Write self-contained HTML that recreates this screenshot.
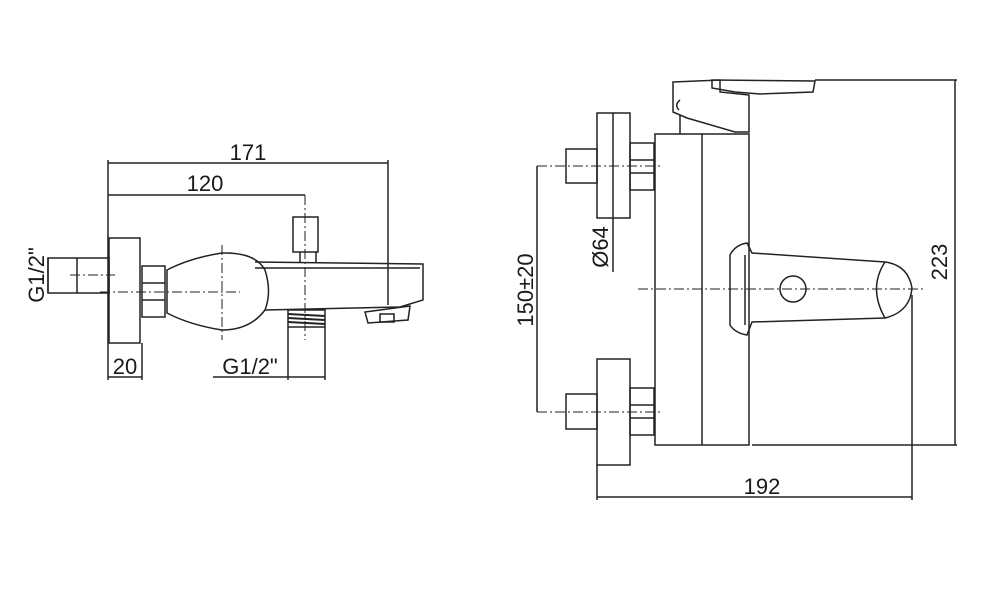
<!DOCTYPE html>
<html><head><style>
html,body{margin:0;padding:0;background:#fff;}
svg{display:block}
text{font-family:"Liberation Sans",sans-serif;font-size:22px;fill:#1a1a1a}
</style></head><body>
<svg width="1000" height="603" viewBox="0 0 1000 603" xmlns="http://www.w3.org/2000/svg">
<g fill="none" stroke="#222" stroke-width="1.5">
<line x1="108" y1="163" x2="388" y2="163"/>
<line x1="108" y1="195" x2="305" y2="195"/>
<line x1="108" y1="160" x2="108" y2="380"/>
<line x1="388" y1="160" x2="388" y2="305"/>
<line x1="142" y1="343" x2="142" y2="380"/>
<line x1="108" y1="377" x2="142" y2="377"/>
<line x1="213" y1="377" x2="325" y2="377"/>
<line x1="288" y1="327" x2="288" y2="380"/>
<line x1="325" y1="327" x2="325" y2="380"/>
<line x1="48" y1="258" x2="48" y2="293"/>
<rect x="109" y="238" width="31" height="105"/>
<rect x="48" y="258" width="61" height="35"/>
<line x1="77" y1="258" x2="77" y2="293"/>
<rect x="142" y="266" width="23" height="51"/>
<line x1="142" y1="283" x2="165" y2="283"/>
<line x1="142" y1="300" x2="165" y2="300"/>
<path d="M167 270 Q190 258 222 253 Q255 252 265 270 Q272 292 265 310 Q250 330 222 330 Q190 325 167 313 Z"/>
<path d="M255 262 L423 264 L423 300 L400 307 L265 310"/>
<line x1="255" y1="268" x2="420" y2="268"/>
<path d="M300 262 L300 252 M316 252 L316 262"/>
<rect x="293" y="217" width="25" height="35"/>
<rect x="288" y="310" width="37" height="17"/>
<path d="M288 314 L325 316 M288 318 L325 320 M288 322 L325 324" stroke-width="2"/>
<path d="M365 312 L410 306 L408 320 L368 323 Z"/>
<rect x="380" y="314" width="14" height="8"/>
<g stroke-dasharray="10 3 2 3" stroke-width="1">
<line x1="70" y1="275" x2="115" y2="275"/>
<line x1="100" y1="292" x2="240" y2="292"/>
<line x1="222" y1="245" x2="222" y2="340"/>
<line x1="305" y1="195" x2="305" y2="340"/>
</g>

<rect x="655" y="134" width="94" height="311"/>
<line x1="702" y1="134" x2="702" y2="445"/>
<path d="M673 82 L720 80 L720 92 L749 95 L749 132 L735 132 L687 118 L673 112 Z"/>
<path d="M712 80 L815 81 L813 92 L760 94 L735 92 L712 88 Z"/>
<path d="M680 100 Q674 105 679 110"/>
<line x1="680" y1="115" x2="680" y2="134"/>
<line x1="815" y1="80" x2="957" y2="80"/>
<line x1="752" y1="445" x2="957" y2="445"/>
<line x1="955" y1="80" x2="955" y2="445"/>
<rect x="597" y="113" width="33" height="105"/>
<line x1="613" y1="113" x2="613" y2="272"/>
<rect x="566" y="149" width="31" height="34"/>
<rect x="630" y="143" width="24" height="47"/>
<line x1="630" y1="160" x2="654" y2="160"/>
<line x1="630" y1="173" x2="654" y2="173"/>
<rect x="597" y="359" width="33" height="106"/>
<rect x="566" y="394" width="31" height="35"/>
<rect x="630" y="388" width="24" height="47"/>
<line x1="630" y1="405" x2="654" y2="405"/>
<line x1="630" y1="418" x2="654" y2="418"/>
<line x1="537" y1="166" x2="537" y2="412"/>
<path d="M730 255 Q735 245 747 243 L752 253 L885 262 Q908 265 912 288 Q910 312 885 318 L752 322 L747 335 Q735 333 730 325 Z"/>
<line x1="745" y1="255" x2="745" y2="325"/>
<path d="M885 262 Q868 288 885 318"/>
<circle cx="793" cy="289" r="13"/>
<line x1="597" y1="465" x2="597" y2="500"/>
<line x1="912" y1="295" x2="912" y2="500"/>
<line x1="597" y1="497" x2="912" y2="497"/>
<g stroke-dasharray="10 3 2 3" stroke-width="1">
<line x1="537" y1="166" x2="660" y2="166"/>
<line x1="537" y1="412" x2="660" y2="412"/>
<line x1="638" y1="289" x2="925" y2="289"/>
</g>
</g>
<text x="248" y="160" text-anchor="middle">171</text>
<text x="205" y="191" text-anchor="middle">120</text>
<text x="125" y="374" text-anchor="middle">20</text>
<text x="250" y="374" text-anchor="middle">G1/2"</text>
<text transform="translate(44,275) rotate(-90)" text-anchor="middle">G1/2"</text>
<text x="762" y="494" text-anchor="middle">192</text>
<text transform="translate(947,262) rotate(-90)" text-anchor="middle">223</text>
<text transform="translate(533,290) rotate(-90)" text-anchor="middle">150±20</text>
<text transform="translate(608,247) rotate(-90)" text-anchor="middle">Ø64</text>
</svg>
</body></html>
